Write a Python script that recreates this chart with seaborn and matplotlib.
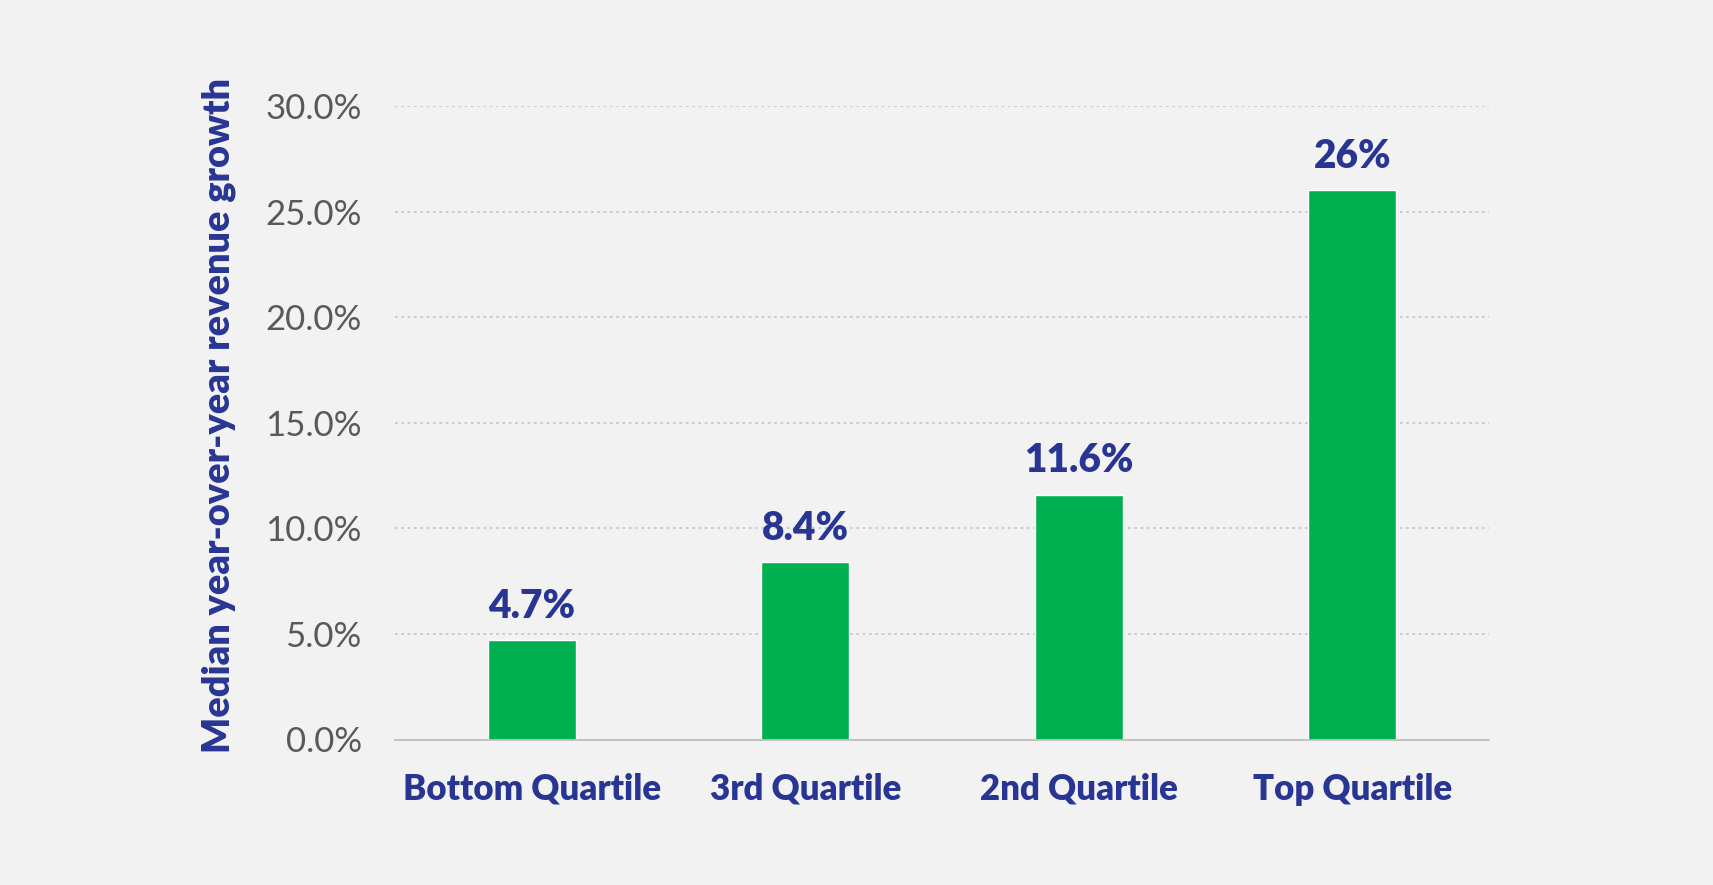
import matplotlib
matplotlib.use("Agg")
import matplotlib.pyplot as plt
import seaborn as sns
import pandas as pd
from matplotlib.ticker import FuncFormatter, MultipleLocator

categories = ["Bottom Quartile", "3rd Quartile", "2nd Quartile", "Top Quartile"]
values = [4.7, 8.4, 11.6, 26.0]
value_labels = ["4.7%", "8.4%", "11.6%", "26%"]
y_label = "Median year-over-year revenue growth"

BG = "#F2F2F2"
GREEN = "#00B050"
NAVY = "#283593"
GRAY = "#595959"

sns.set_theme(style="white")
plt.rcParams['font.family'] = ['Lato', 'DejaVu Sans']

df = pd.DataFrame({"cat": categories, "val": values})

fig = plt.figure(figsize=(17.13, 8.85), dpi=100, facecolor=BG)
ax = fig.add_axes([395/1713, 1 - 739.5/885, (1489-395)/1713, (739.5-106)/885])
ax.set_facecolor(BG)

sns.barplot(data=df, x="cat", y="val", color=GREEN, width=0.32, saturation=1, ax=ax, zorder=3)

ax.set_xlim(-0.5, 3.5)
ax.set_ylim(0, 30)
ax.yaxis.set_major_locator(MultipleLocator(5))
ax.yaxis.set_major_formatter(FuncFormatter(lambda v, p: f"{v:.1f}%"))
ax.grid(axis="y", color="#C8C8C8", linestyle=(0, (1.5, 2)), linewidth=1.3, zorder=0)
ax.grid(axis="x", visible=False)
for s in ["top", "right", "left"]:
    ax.spines[s].set_visible(False)
ax.spines["bottom"].set_color("#BFBFBF")
ax.spines["bottom"].set_linewidth(1.3)
ax.spines["bottom"].set_zorder(4)

ax.tick_params(axis="y", length=0, pad=24, labelsize=25, labelcolor=GRAY)
ax.tick_params(axis="x", length=0, pad=24, labelsize=25, labelcolor=NAVY)
for t in ax.get_xticklabels():
    t.set_fontweight("heavy")

ax.set_xlabel("")
ax.set_ylabel(y_label, fontsize=27.3, fontweight="heavy", color=NAVY, labelpad=21)
ax.yaxis.label.set_y(0.512)

for i, (v, lab) in enumerate(zip(values, value_labels)):
    ax.annotate(lab, (i, v), xytext=(0, 11), textcoords="offset points",
                ha="center", va="bottom", fontsize=28, fontweight="heavy", color=NAVY)

fig.savefig("out.png", dpi=100, facecolor=BG)
